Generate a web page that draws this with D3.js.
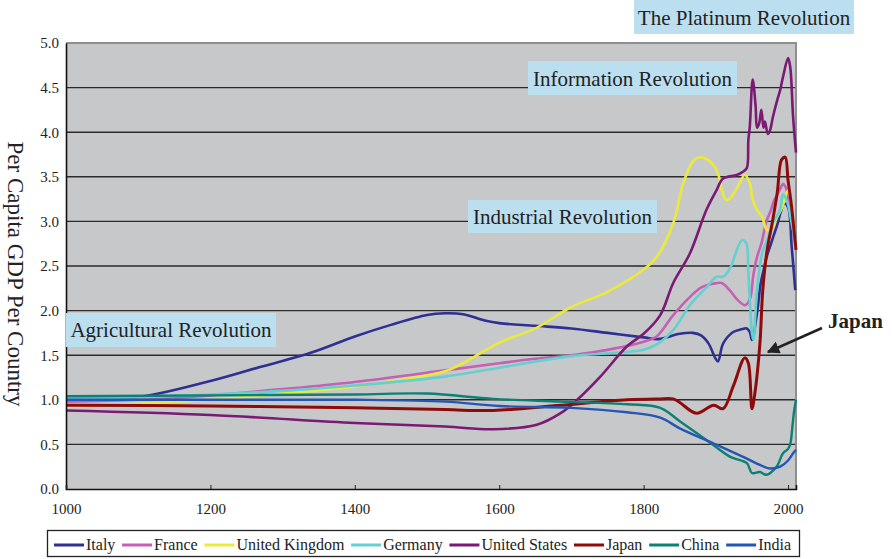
<!DOCTYPE html>
<html><head><meta charset="utf-8">
<script src="https://cdn.jsdelivr.net/npm/d3@7"></script>
<style>body{margin:0;background:#fff}svg{display:block;font-family:"Liberation Serif","Times New Roman",serif}svg text{font-family:"Liberation Serif","Times New Roman",serif !important}</style>
</head><body><svg id="c" width="894" height="559"></svg>
<script>
// ---------- data ----------
const seriesNames = ["Italy","France","United Kingdom","Germany","United States","Japan","China","India"];
const seriesColors = ["#2e3092","#c560b4","#eaea3c","#66cfcf","#7b1a74","#8e0b0b","#0d8075","#2457b4"];
const yTicks = [0,0.5,1,1.5,2,2.5,3,3.5,4,4.5,5];
const xTicks = [1000,1200,1400,1600,1800,2000];

const italyYears  = [1000,1100,1200,1270,1340,1400,1450,1500,1525,1550,1580,1600,1650,1700,1750,1800,1820,1850,1868,1880,1890,1899,1903,1910,1924,1935,1943,1947,1950,1957,1962,1966,1971,1976,1980,1985,1990,1995,2000,2005,2010];
const italyValues = [1.00,1.03,1.21,1.37,1.53,1.71,1.84,1.95,1.97,1.96,1.89,1.86,1.83,1.80,1.75,1.70,1.68,1.74,1.75,1.72,1.63,1.47,1.43,1.63,1.76,1.79,1.80,1.76,1.67,1.97,2.30,2.45,2.62,2.74,2.84,2.96,3.11,3.20,3.16,2.72,2.23];

const franceYears  = [1000,1100,1200,1300,1400,1525,1600,1650,1700,1750,1800,1818,1841,1865,1880,1896,1908,1920,1930,1940,1944,1948,1952,1957,1963,1970,1975,1980,1985,1990,1993,1997,2000,2005,2010];
const franceValues = [0.98,1.00,1.05,1.12,1.20,1.33,1.41,1.46,1.50,1.56,1.65,1.71,1.95,2.16,2.26,2.30,2.31,2.22,2.12,2.06,2.08,2.15,2.40,2.60,2.75,3.00,3.10,3.22,3.30,3.38,3.42,3.38,3.25,3.00,2.75];

const ukYears  = [1000,1200,1300,1400,1525,1550,1600,1650,1700,1750,1800,1818,1841,1855,1868,1878,1892,1902,1908,1914,1920,1933,1940,1947,1951,1957,1964,1971,1978,1985,1992,2000,2005,2010];
const ukValues = [0.92,1.00,1.07,1.15,1.32,1.41,1.64,1.80,2.04,2.21,2.46,2.60,2.98,3.43,3.67,3.72,3.67,3.56,3.36,3.24,3.26,3.43,3.52,3.43,3.24,3.13,3.05,2.90,2.93,3.05,3.16,3.35,3.16,2.71];

const germanyYears  = [1000,1100,1200,1300,1400,1525,1600,1700,1800,1820,1841,1864,1888,1901,1910,1920,1929,1936,1942,1945,1950,1952,1957,1964,1971,1979,1989,1993,1998,2005,2010];
const germanyValues = [1.02,1.03,1.06,1.10,1.16,1.26,1.36,1.49,1.56,1.63,1.78,2.06,2.27,2.38,2.38,2.48,2.68,2.79,2.76,2.42,1.75,1.67,2.23,2.64,2.79,2.98,3.13,3.30,3.24,2.98,2.79];

const usYears  = [1000,1200,1400,1525,1592,1652,1685,1708,1740,1777,1800,1823,1841,1864,1887,1901,1910,1929,1938,1943,1945,1947,1951,1955,1957,1960,1963,1966,1968,1972,1975,1979,1985,1989,1993,2000,2003,2007,2011];
const usValues = [0.88,0.83,0.74,0.70,0.67,0.72,0.85,1.00,1.26,1.60,1.74,1.95,2.31,2.64,3.13,3.35,3.48,3.52,3.56,3.60,3.91,4.06,4.59,4.30,4.05,4.10,4.25,4.05,4.12,3.98,4.02,4.17,4.36,4.47,4.62,4.83,4.73,4.17,3.77];

const japanYears  = [1000,1200,1400,1525,1592,1685,1777,1820,1841,1850,1873,1897,1910,1924,1940,1945,1950,1954,1961,1965,1971,1978,1985,1991,1996,2000,2005,2011];
const japanValues = [0.94,0.93,0.91,0.89,0.88,0.94,1.00,1.01,1.01,0.97,0.85,0.94,0.90,1.15,1.47,1.41,0.90,1.07,1.63,2.23,2.68,2.98,3.32,3.69,3.72,3.46,3.16,2.68];

const chinaYears  = [1000,1200,1400,1500,1592,1685,1777,1823,1850,1897,1920,1943,1950,1961,1970,1984,1993,2000,2003,2006,2008,2011];
const chinaValues = [1.04,1.05,1.06,1.07,1.01,0.98,0.95,0.91,0.76,0.49,0.36,0.29,0.18,0.19,0.16,0.25,0.40,0.45,0.50,0.70,0.85,1.00];

const indiaYears  = [1000,1200,1400,1525,1600,1700,1777,1823,1850,1897,1943,1961,1975,1989,2000,2007,2011];
const indiaValues = [1.00,1.00,1.00,0.98,0.93,0.91,0.86,0.80,0.68,0.51,0.34,0.27,0.23,0.25,0.32,0.40,0.44];

const allYears  = [italyYears,franceYears,ukYears,germanyYears,usYears,japanYears,chinaYears,indiaYears];
const allValues = [italyValues,franceValues,ukValues,germanyValues,usValues,japanValues,chinaValues,indiaValues];

const revolutionLabels = ["The Platinum Revolution","Information Revolution","Industrial Revolution","Agricultural Revolution"];

// ---------- layout ----------
const FONT = '"Liberation Serif","Times New Roman",serif';
const svg = d3.select("#c");
const L = 66, R = 796, T = 43, B = 489;
const x = d3.scaleLinear().domain([1000,2011]).range([L,R]);
const y = d3.scaleLinear().domain([0,5]).range([B,T]);

svg.append("rect").attr("x",L).attr("y",T).attr("width",R-L).attr("height",B-T).attr("fill","#c7c8ca");

// gridlines
svg.append("g").selectAll("line").data(yTicks.filter(d=>d>0&&d<5)).join("line")
  .attr("x1",L).attr("x2",R).attr("y1",d=>y(d)).attr("y2",d=>y(d))
  .attr("stroke","#2a2a2a").attr("stroke-width",1.4);
// top/right border
svg.append("path").attr("d",`M${L},${T}H${R}V${B}`).attr("fill","none").attr("stroke","#8f8f8f").attr("stroke-width",2);

// lines
const line = d3.line().curve(d3.curveCatmullRom.alpha(0.5)).x(d=>x(d[0])).y(d=>y(d[1]));
const lw = [2.6,2.6,2.6,2.6,2.6,3,2.4,2.4];
allYears.forEach((yrs,i)=>{
  const pts = yrs.map((yr,j)=>[yr, allValues[i][j]]);
  svg.append("path").datum(pts).attr("d",line).attr("fill","none")
    .attr("stroke",seriesColors[i]).attr("stroke-width",lw[i]).attr("stroke-linejoin","round");
});

// axes
const yAxis = d3.axisLeft(y).tickValues(yTicks).tickFormat(d3.format(".1f")).tickSize(0).tickPadding(7);
const gy = svg.append("g").attr("transform",`translate(${L},0)`).call(yAxis).attr("font-family",FONT);
gy.select(".domain").attr("stroke","#111").attr("stroke-width",1.6);
gy.selectAll("text").attr("font-size",15).attr("fill","#222").style("font-family",FONT);

const xAxis = d3.axisBottom(x).tickValues(xTicks).tickFormat(d3.format("d")).tickSize(-4).tickPadding(14);
const gx = svg.append("g").attr("transform",`translate(0,${B})`).call(xAxis).attr("font-family",FONT);
gx.select(".domain").attr("stroke","#111").attr("stroke-width",1.6);
gx.selectAll(".tick line").attr("stroke","#222");
gx.selectAll("text").attr("font-size",15).attr("fill","#222").style("font-family",FONT);

// y title
svg.append("text").attr("transform","translate(8,274) rotate(90)").attr("text-anchor","middle")
  .style("font-family",FONT).attr("font-size",23).attr("fill","#222").text("Per Capita GDP Per Country");

// revolution label boxes
const boxes = [[634,0,220,34,25],[528,61,209,34,86],[468,200,189,33,224],[66,313,210,34,337]];
revolutionLabels.forEach((t,i)=>{
  const b = boxes[i];
  svg.append("rect").attr("x",b[0]).attr("y",b[1]).attr("width",b[2]).attr("height",b[3]).attr("fill","#bcdff0");
  svg.append("text").attr("x",b[0]+b[2]/2).attr("y",b[4]).attr("text-anchor","middle")
    .style("font-family",FONT).attr("font-size",21).attr("fill","#222").text(t);
});

// Japan annotation
svg.append("defs").append("marker").attr("id","ah").attr("viewBox","0 0 10 10").attr("refX",9).attr("refY",5)
  .attr("markerWidth",5).attr("markerHeight",5).attr("orient","auto")
  .append("path").attr("d","M0,0L10,5L0,10z").attr("fill","#222");
svg.append("line").attr("x1",822).attr("y1",328).attr("x2",768).attr("y2",352)
  .attr("stroke","#222").attr("stroke-width",2.5).attr("marker-end","url(#ah)");
svg.append("text").attr("x",828).attr("y",328).style("font-family",FONT).attr("font-size",21).attr("font-weight","bold").attr("fill","#222").text("Japan");

// legend
const lg = svg.append("g");
lg.append("rect").attr("x",47.5).attr("y",530.5).attr("width",752).attr("height",26).attr("fill","#fff").attr("stroke","#222").attr("stroke-width",1.3);
const items = seriesNames.map((n,i)=>{
  const g = lg.append("g");
  const t = g.append("text").style("font-family",FONT).attr("font-size",16).attr("fill","#222").attr("y",550).text(n);
  return {g,t,w:t.node().getComputedTextLength(),i};
});
const lineLen = 30, tgap = 2;
const total = d3.sum(items,d=>d.w+lineLen+tgap);
const gap = (791-54-total)/(items.length-1);
let cx = 54;
items.forEach(it=>{
  it.g.append("line").attr("x1",cx).attr("x2",cx+lineLen).attr("y1",545).attr("y2",545)
    .attr("stroke",seriesColors[it.i]).attr("stroke-width",3);
  it.t.attr("x",cx+lineLen+tgap);
  cx += lineLen+tgap+it.w+gap;
});
</script></body></html>
